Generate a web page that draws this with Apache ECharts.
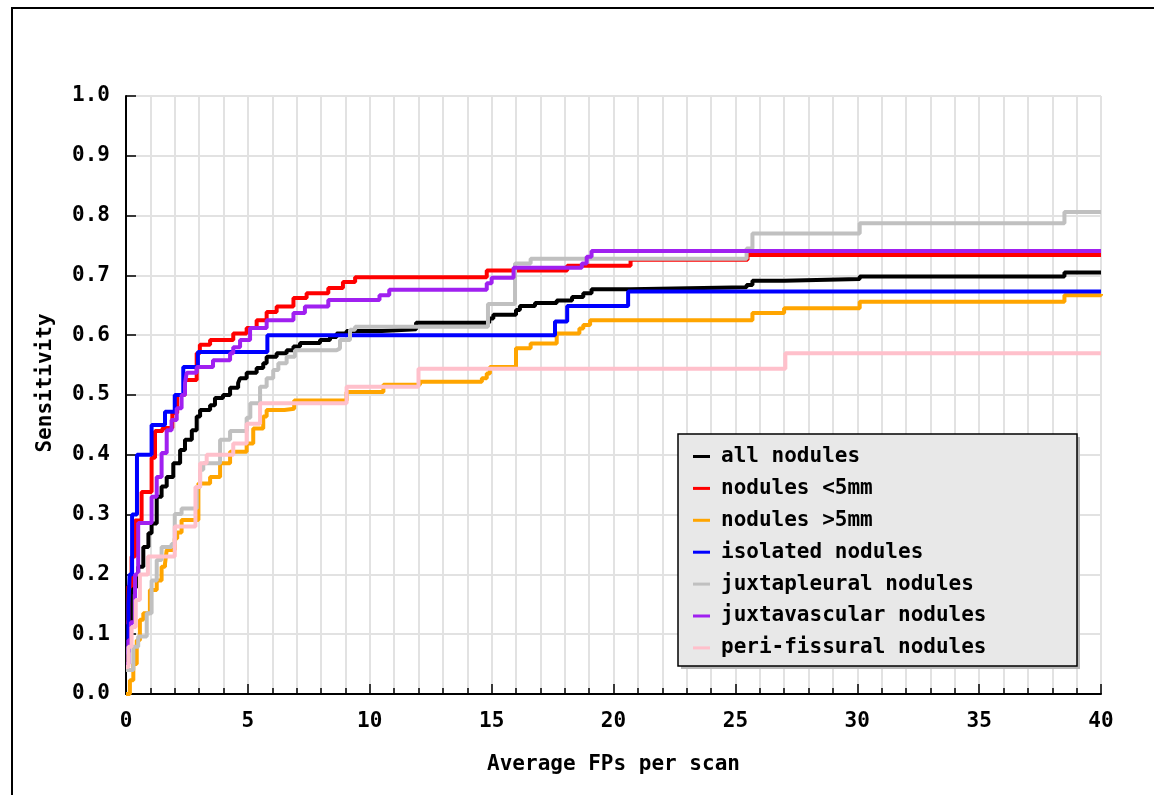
<!DOCTYPE html>
<html>
<head>
<meta charset="utf-8">
<script src="https://cdn.jsdelivr.net/npm/echarts@6/dist/echarts.min.js"></script>
</head>
<body style="margin:0;background:#fff">
<div id="main" style="width:1154px;height:795px;"></div>

<script type="text/javascript">
// FROC curves, [FPs per scan where the step happens, new sensitivity]
var names = ['all nodules', 'nodules <5mm', 'nodules >5mm', 'isolated nodules',
             'juxtapleural nodules', 'juxtavascular nodules', 'peri-fissural nodules'];
var colors = ['#000000', '#ff0000', '#ffa500', '#0000ff', '#c0c0c0', '#a020f0', '#ffc0cb'];

var allNodules = [[0,0.12],[0.2,0.17],[0.29,0.18],[0.5,0.213],[0.71,0.246],[0.92,0.269],[1.05,0.285],
  [1.26,0.33],[1.46,0.347],[1.67,0.363],[1.94,0.386],[2.22,0.408],[2.42,0.425],[2.7,0.441],[2.9,0.464],
  [3.04,0.475],[3.45,0.483],[3.65,0.495],[3.98,0.5],[4.27,0.512],[4.6,0.52],[4.68,0.528],[4.95,0.537],
  [5.36,0.545],[5.63,0.553],[5.77,0.564],[6.18,0.57],[6.59,0.575],[6.87,0.581],[7.14,0.587],[7.96,0.592],
  [8.37,0.597],[8.64,0.603],[9.05,0.607],[10.5,0.61],[11.9,0.621],[14.9,0.628],[15.07,0.634],[16.0,0.642],
  [16.16,0.649],[16.78,0.654],[17.67,0.658],[18.3,0.664],[18.76,0.67],[19.1,0.677],[20.7,0.68],
  [25.46,0.684],[25.7,0.691],[27.0,0.694],[30.1,0.698],[38.5,0.705],[40,0.705]];

var small = [[0,0.12],[0.1,0.18],[0.23,0.23],[0.37,0.29],[0.64,0.338],[1.05,0.395],[1.19,0.44],[1.5,0.445],
  [1.9,0.47],[2.1,0.5],[2.42,0.525],[2.9,0.57],[3.03,0.584],[3.45,0.592],[4.4,0.603],[4.95,0.612],
  [5.36,0.625],[5.77,0.639],[6.18,0.648],[6.87,0.662],[7.41,0.67],[8.3,0.679],[8.9,0.689],[9.4,0.697],
  [14.8,0.708],[18.1,0.716],[20.7,0.726],[25.5,0.734],[40,0.734]];

var large = [[0,0],[0.16,0.023],[0.3,0.05],[0.44,0.09],[0.57,0.124],[0.71,0.135],[0.98,0.174],[1.26,0.19],
  [1.46,0.213],[1.6,0.218],[1.67,0.241],[2.0,0.26],[2.1,0.27],[2.28,0.291],[2.97,0.352],[3.45,0.363],
  [3.86,0.386],[4.27,0.405],[4.95,0.419],[5.22,0.444],[5.63,0.464],[5.77,0.475],[6.5,0.477],[6.9,0.491],
  [9.05,0.505],[10.56,0.517],[12.06,0.522],[14.6,0.528],[14.8,0.536],[14.93,0.547],[16.0,0.578],
  [16.6,0.586],[17.67,0.603],[18.6,0.611],[18.76,0.617],[19.04,0.625],[25.7,0.637],[27.0,0.645],
  [30.1,0.656],[38.5,0.667],[40,0.669]];

var isolated = [[0,0.07],[0.1,0.15],[0.15,0.2],[0.25,0.3],[0.45,0.4],[1.05,0.45],[1.6,0.472],[2.0,0.5],
  [2.35,0.547],[2.95,0.572],[5.8,0.6],[17.6,0.623],[18.1,0.649],[20.6,0.673],[40,0.673]];

var juxtapleural = [[0,0.04],[0.3,0.079],[0.5,0.096],[0.85,0.135],[1.05,0.19],[1.26,0.224],[1.46,0.246],
  [1.87,0.251],[2.0,0.301],[2.28,0.31],[2.9,0.346],[3.04,0.375],[3.17,0.386],[3.86,0.425],[4.27,0.44],
  [4.95,0.462],[5.1,0.486],[5.5,0.514],[5.77,0.528],[6.04,0.542],[6.25,0.553],[6.59,0.564],[6.93,0.575],
  [8.64,0.578],[8.78,0.592],[9.19,0.609],[9.4,0.614],[14.85,0.652],[15.96,0.72],[16.6,0.728],
  [25.46,0.745],[25.7,0.77],[30.1,0.787],[38.5,0.806],[40,0.806]];

var juxtavascular = [[0,0.05],[0.1,0.09],[0.2,0.12],[0.37,0.2],[0.5,0.286],[1.05,0.33],[1.26,0.363],
  [1.46,0.403],[1.67,0.441],[1.87,0.458],[2.08,0.478],[2.28,0.5],[2.42,0.52],[2.49,0.537],[2.9,0.547],
  [3.57,0.558],[4.27,0.57],[4.4,0.58],[4.68,0.592],[5.09,0.612],[5.77,0.625],[6.87,0.637],[7.34,0.648],
  [8.3,0.659],[10.4,0.667],[10.8,0.676],[14.8,0.687],[15.0,0.696],[15.9,0.713],[18.7,0.72],[18.9,0.731],
  [19.1,0.741],[40,0.741]];

var periFissural = [[0,0.045],[0.1,0.079],[0.23,0.112],[0.4,0.157],[0.57,0.2],[0.9,0.23],[2.0,0.28],
  [2.85,0.346],[3.04,0.386],[3.31,0.4],[4.4,0.419],[4.95,0.452],[5.5,0.486],[9.05,0.514],[12.0,0.544],
  [27.05,0.57],[40,0.57]];

var curves = [allNodules, small, large, isolated, juxtapleural, juxtavascular, periFissural];

var font = 'DejaVu Sans Mono';
var gridColor = '#e2e2e2';

var series = [];
for (var i = 0; i < curves.length; i++) {
    series.push({
        name: names[i],
        type: 'line',
        step: 'end',
        showSymbol: false,
        data: curves[i],
        lineStyle: { color: colors[i], width: 4 },
        itemStyle: { color: colors[i] }
    });
}

var option = {
    animation: false,
    backgroundColor: '#ffffff',
    grid: { left: 126, right: 53, top: 96, bottom: 101 },
    graphic: [
        { type: 'rect', shape: { x: 12, y: 8, width: 1200, height: 900 },
          style: { fill: 'none', stroke: '#000', lineWidth: 2 }, z: 0 },
        { type: 'rect', shape: { x: 681, y: 437, width: 399, height: 232 },
          style: { fill: '#b8b8b8' }, z: 10 },
        { type: 'rect', shape: { x: 678, y: 434, width: 399, height: 232 },
          style: { fill: '#e8e8e8', stroke: '#000', lineWidth: 1.5 }, z: 10 }
    ],
    legend: {
        orient: 'vertical',
        left: 693,
        top: 446,
        z: 20,
        padding: 0,
        icon: 'rect',
        itemWidth: 17,
        itemHeight: 3,
        itemGap: 10.9,
        data: names,
        textStyle: { fontFamily: font, fontSize: 21, fontWeight: 'bold', lineHeight: 20,
            color: '#000', padding: [0, 0, 0, 6] }
    },
    xAxis: {
        type: 'value',
        min: 0,
        max: 40,
        interval: 5,
        name: 'Average FPs per scan',
        nameLocation: 'middle',
        nameGap: 60,
        nameTextStyle: { fontFamily: font, fontSize: 21, fontWeight: 'bold', color: '#000' },
        axisLine: { lineStyle: { color: '#000', width: 2 } },
        axisTick: { inside: true, length: 10, lineStyle: { color: '#000', width: 1.5 } },
        minorTick: { show: true, splitNumber: 5, length: 6, lineStyle: { color: '#000', width: 1.5 } },
        axisLabel: { fontFamily: font, fontSize: 21, fontWeight: 'bold', color: '#000', margin: 17 },
        splitLine: { lineStyle: { color: gridColor, width: 2 } },
        minorSplitLine: { show: true, lineStyle: { color: gridColor, width: 2 } }
    },
    yAxis: {
        type: 'value',
        min: 0,
        max: 1,
        interval: 0.1,
        name: 'Sensitivity',
        nameLocation: 'middle',
        nameGap: 70,
        nameTextStyle: { fontFamily: font, fontSize: 21, fontWeight: 'bold', color: '#000', padding: [0, 0, 0, 24] },
        axisLine: { show: true, lineStyle: { color: '#000', width: 2 } },
        axisTick: { show: true, inside: true, length: 10, lineStyle: { color: '#000', width: 1.5 } },
        axisLabel: { fontFamily: font, fontSize: 21, fontWeight: 'bold', color: '#000', margin: 16,
            formatter: function (v) { return v.toFixed(1); } },
        splitLine: { lineStyle: { color: gridColor, width: 2 } }
    },
    series: series
};

var myChart = echarts.init(document.getElementById('main'));
myChart.setOption(option);
</script>
</body>
</html>
